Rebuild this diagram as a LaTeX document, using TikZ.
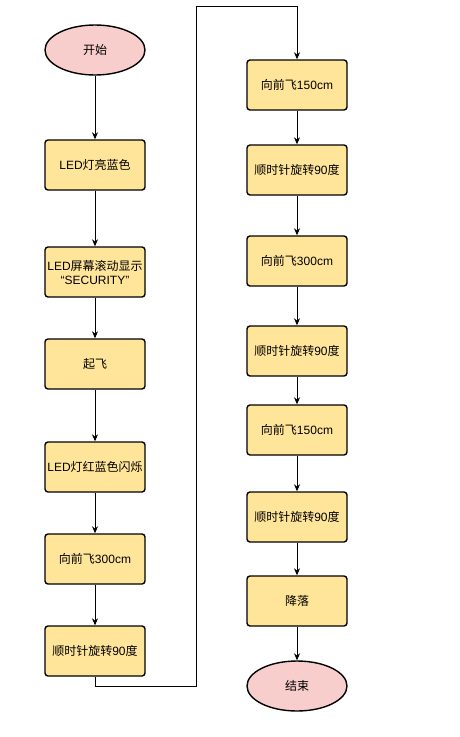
\documentclass[tikz,border=0pt]{standalone}
\usepackage{fontspec}
\setmainfont{Liberation Sans}
\newfontfamily\cjk{Noto Sans CJK SC}
\newcommand{\zh}[1]{{\cjk #1}}
\usetikzlibrary{shapes.geometric,arrows.meta}
\tikzset{
  stepbox/.style={draw=black, line width=1.4pt, fill=boxyellow, rounded corners=3pt,
    minimum width=100pt, minimum height=50pt, inner sep=0pt, align=center,
    font=\fontsize{12pt}{14pt}\selectfont},
  termnode/.style={draw=black, line width=1.4pt, fill=termpink, ellipse,
    minimum width=100pt, minimum height=50pt, inner sep=0pt,
    font=\fontsize{12pt}{14pt}\selectfont},
  conn/.style={draw=black, line width=0.9pt, -{Stealth[length=7pt,width=6pt]}},
}
\definecolor{boxyellow}{HTML}{FFE599}
\definecolor{termpink}{HTML}{F8CECC}
\begin{document}
\begin{tikzpicture}[x=1pt,y=-1pt]
\useasboundingbox (0,0) rectangle (459,737);
\fill[white] (0,0) rectangle (459,737);
% left column
\node[termnode] (start) at (95,50) {\zh{开始}};
\node[stepbox] (l1) at (95,165) {LED\zh{灯亮蓝色}};
\node[stepbox] (l2) at (95,272) {LED\zh{屏幕滚动显示}\\“SECURITY”};
\node[stepbox] (l3) at (95,364) {\zh{起飞}};
\node[stepbox] (l4) at (95,467) {LED\zh{灯红蓝色闪烁}};
\node[stepbox] (l5) at (95,559) {\zh{向前飞}300cm};
\node[stepbox] (l6) at (95,651) {\zh{顺时针旋转}90\zh{度}};
% right column
\node[stepbox] (r1) at (297,85) {\zh{向前飞}150cm};
\node[stepbox] (r2) at (297,170) {\zh{顺时针旋转}90\zh{度}};
\node[stepbox] (r3) at (297,261) {\zh{向前飞}300cm};
\node[stepbox] (r4) at (297,351) {\zh{顺时针旋转}90\zh{度}};
\node[stepbox] (r5) at (297,430) {\zh{向前飞}150cm};
\node[stepbox] (r6) at (297,517) {\zh{顺时针旋转}90\zh{度}};
\node[stepbox] (r7) at (297,601) {\zh{降落}};
\node[termnode] (stop) at (297,686) {\zh{结束}};
\coordinate (c1) at (95,686);
\coordinate (c2) at (196,686);
\coordinate (c3) at (196,6);
\coordinate (c4) at (297,6);
\draw[conn] (start) -- (l1);
\draw[conn] (l1) -- (l2);
\draw[conn] (l2) -- (l3);
\draw[conn] (l3) -- (l4);
\draw[conn] (l4) -- (l5);
\draw[conn] (l5) -- (l6);
\draw[conn] (l6.south) -- (c1) -- (c2) -- (c3) -- (c4) -- (r1.north);
\draw[conn] (r1) -- (r2);
\draw[conn] (r2) -- (r3);
\draw[conn] (r3) -- (r4);
\draw[conn] (r4) -- (r5);
\draw[conn] (r5) -- (r6);
\draw[conn] (r6) -- (r7);
\draw[conn] (r7) -- (stop);
\end{tikzpicture}
\end{document}
